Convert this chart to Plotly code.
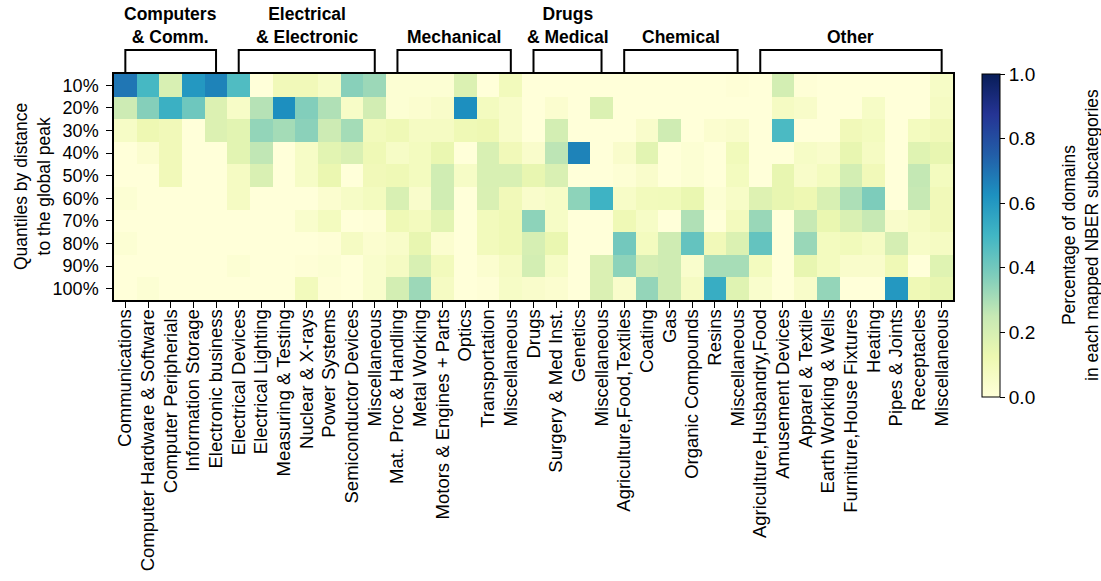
import plotly.graph_objects as go

categories = ["Communications", "Computer Hardware & Software", "Computer Peripherials",
              "Information Storage", "Electronic business",
              "Electrical Devices", "Electrical Lighting", "Measuring & Testing", "Nuclear & X-rays",
              "Power Systems", "Semiconductor Devices", "Miscellaneous",
              "Mat. Proc & Handling", "Metal Working", "Motors & Engines + Parts", "Optics",
              "Transportation", "Miscellaneous",
              "Drugs", "Surgery & Med Inst.", "Genetics", "Miscellaneous",
              "Agriculture,Food,Textiles", "Coating", "Gas", "Organic Compounds", "Resins", "Miscellaneous",
              "Agriculture,Husbandry,Food", "Amusement Devices", "Apparel & Textile", "Earth Working & Wells",
              "Furniture,House Fixtures", "Heating", "Pipes & Joints", "Receptacles", "Miscellaneous"]

quantiles = ["10%", "20%", "30%", "40%", "50%", "60%", "70%", "80%", "90%", "100%"]

groups = ["Computers<br>& Comm.", "Electrical<br>& Electronic", "Mechanical",
          "Drugs<br>& Medical", "Chemical", "Other"]
group_sizes = [5, 7, 6, 4, 6, 9]

q10 = [0.69, 0.49, 0.195, 0.6, 0.66, 0.47, 0, 0.1, 0.1, 0.06,
       0.36, 0.325, 0.02, 0.02, 0.02, 0.185, 0, 0.09, 0, 0,
       0, 0, 0, 0, 0, 0, 0, 0.01, 0, 0.21,
       0.01, 0, 0, 0, 0, 0, 0.06]
q20 = [0.23, 0.365, 0.52, 0.41, 0.18, 0.055, 0.28, 0.63, 0.37, 0.29,
       0.055, 0.215, 0.02, 0.03, 0.05, 0.63, 0.08, 0.05, 0, 0.03,
       0, 0.185, 0, 0, 0, 0, 0, 0, 0, 0.068,
       0.05, 0, 0, 0.06, 0, 0, 0.07]
q30 = [0.06, 0.12, 0.1, 0, 0.18, 0.16, 0.34, 0.31, 0.355, 0.23,
       0.31, 0.09, 0.11, 0.07, 0.07, 0.11, 0.12, 0.05, 0, 0.21,
       0, 0, 0, 0.045, 0.225, 0, 0.03, 0.045, 0, 0.48,
       0, 0, 0.1, 0.08, 0, 0.08, 0.1]
q40 = [0, 0.03, 0.1, 0, 0, 0.16, 0.26, 0, 0.06, 0.16,
       0.19, 0.11, 0.06, 0.08, 0.135, 0, 0.195, 0.1, 0.045, 0.267,
       0.66, 0, 0.045, 0.16, 0, 0.02, 0, 0.095, 0, 0,
       0.06, 0.045, 0.14, 0.068, 0, 0.17, 0.14]
q50 = [0, 0, 0.1, 0, 0, 0.07, 0.19, 0, 0.06, 0.13,
       0, 0.1, 0.11, 0.08, 0.22, 0.06, 0.195, 0.195, 0.14, 0.19,
       0, 0, 0.015, 0.045, 0, 0.02, 0, 0.08, 0, 0.14,
       0.05, 0.08, 0.21, 0.1, 0, 0.255, 0.08]
q60 = [0.02, 0, 0, 0, 0, 0.07, 0, 0, 0, 0.03,
       0.06, 0.08, 0.195, 0.045, 0.22, 0, 0.19, 0.1, 0.045, 0.06,
       0.35, 0.51, 0.055, 0.09, 0.095, 0.135, 0.02, 0.055, 0.175, 0.14,
       0.12, 0.195, 0.295, 0.38, 0, 0.25, 0.1]
q70 = [0, 0, 0, 0, 0, 0, 0, 0, 0.04, 0.08,
       0, 0.01, 0.11, 0.085, 0.16, 0, 0.09, 0.11, 0.35, 0.06,
       0, 0, 0.11, 0.06, 0, 0.29, 0, 0.085, 0.33, 0,
       0.25, 0.135, 0.19, 0.25, 0.045, 0.07, 0.1]
q80 = [0.02, 0, 0, 0, 0, 0, 0, 0, 0, 0.01,
       0.07, 0.03, 0.05, 0.14, 0.03, 0, 0.09, 0.11, 0.2, 0.135,
       0, 0, 0.4, 0.08, 0.225, 0.43, 0.1, 0.185, 0.43, 0,
       0.33, 0.08, 0.095, 0.068, 0.205, 0.055, 0.07]
q90 = [0, 0, 0, 0, 0, 0.02, 0, 0, 0.01, 0.02,
       0, 0.04, 0.07, 0.195, 0.09, 0, 0.03, 0.07, 0.21, 0.06,
       0, 0.188, 0.35, 0.205, 0.225, 0.04, 0.305, 0.305, 0.08, 0,
       0.14, 0.08, 0.045, 0.045, 0.11, 0, 0.17]
q100 = [0, 0.02, 0, 0, 0, 0, 0, 0, 0.09, 0.01,
        0, 0.04, 0.21, 0.325, 0.07, 0, 0.01, 0.06, 0.045, 0.03,
        0, 0.188, 0.045, 0.338, 0.225, 0.068, 0.53, 0.17, 0.04, 0,
        0.05, 0.338, 0, 0, 0.6, 0.11, 0.14]

z = [q10, q20, q30, q40, q50, q60, q70, q80, q90, q100]

ylgnbu = ["#ffffd9", "#edf8b1", "#c7e9b4", "#7fcdbb", "#41b6c4",
          "#1d91c0", "#225ea8", "#253494", "#081d58"]
colorscale = [[i / (len(ylgnbu) - 1), c] for i, c in enumerate(ylgnbu)]

FONT = "Liberation Sans, Arial, sans-serif"
W, H = 1101, 581
PX0, PX1, PY0, PY1 = 114, 953, 74, 300   # plot area in page pixels
L, T = PX0, PY0
R = W - PX1
B = H - PY1
plot_w = PX1 - PX0
plot_h = PY1 - PY0


def px_x(px):
    return (px - PX0) / plot_w


def px_y(py):
    return (PY1 - py) / plot_h


xs = list(range(len(categories)))
ys = list(range(len(quantiles)))

fig = go.Figure(go.Heatmap(
    z=z, x=xs, y=ys, zmin=0, zmax=1, colorscale=colorscale,
    hoverinfo="skip",
    colorbar=dict(
        x=px_x(982), xanchor="left", xpad=0,
        y=1, yanchor="top", ypad=0,
        lenmode="pixels", len=323, thickness=18,
        outlinewidth=1, outlinecolor="black",
        tickvals=[0, 0.2, 0.4, 0.6, 0.8, 1.0],
        ticktext=["0.0", "0.2", "0.4", "0.6", "0.8", "1.0"],
        ticks="outside", ticklen=5, tickwidth=1, tickcolor="black",
        tickfont=dict(family=FONT, size=19, color="black"),
    ),
))

fig.update_layout(
    width=W, height=H,
    margin=dict(l=L, r=R, t=T, b=B, autoexpand=False),
    paper_bgcolor="white", plot_bgcolor="white",
    font=dict(family=FONT, color="black"),
)
fig.update_xaxes(
    range=[-0.5, len(categories) - 0.5],
    tickmode="array", tickvals=xs, ticktext=categories, tickangle=-90,
    ticks="outside", ticklen=6, tickwidth=1, tickcolor="black",
    tickfont=dict(family=FONT, size=18.5, color="black"),
    ticklabelstandoff=-6,
    showline=True, mirror=True, linecolor="black", linewidth=1.5,
    showgrid=False, zeroline=False,
)
fig.update_yaxes(
    range=[len(quantiles) - 0.5, -0.5],
    tickmode="array", tickvals=ys, ticktext=quantiles,
    ticks="outside", ticklen=6, tickwidth=1, tickcolor="black",
    tickfont=dict(family=FONT, size=18, color="black"),
    ticklabelstandoff=4,
    showline=True, mirror=True, linecolor="black", linewidth=1.5,
    showgrid=False, zeroline=False,
)

# group brackets and labels
start = 0
for name, n in zip(groups, group_sizes):
    x0, x1 = start, start + n - 1
    fig.add_shape(type="path",
                  path=f"M {x0},{px_y(73)} L {x0},{px_y(50)} L {x1},{px_y(50)} L {x1},{px_y(73)}",
                  xref="x", yref="paper", line=dict(color="black", width=2))
    fig.add_annotation(x=(x0 + x1) / 2, xref="x", y=px_y(49), yref="paper",
                       yanchor="bottom", xanchor="center", showarrow=False,
                       text=f"<b>{name}</b>",
                       font=dict(family=FONT, size=17.5, color="black"))
    start += n

fig.add_annotation(x=px_x(32), xref="paper", y=px_y(187), yref="paper",
                   xanchor="center", yanchor="middle", showarrow=False, textangle=-90,
                   text="Quantiles by distance<br>to the global peak",
                   font=dict(family=FONT, size=17.5, color="black"))
fig.add_annotation(x=px_x(1080), xref="paper", y=px_y(235), yref="paper",
                   xanchor="center", yanchor="middle", showarrow=False, textangle=-90,
                   text="Percentage of domains<br>in each mapped NBER subcategories",
                   font=dict(family=FONT, size=17.5, color="black"))

fig.write_html(
    "out.html",
    config={"displayModeBar": False},
    post_script="document.body.style.margin='0';document.body.style.overflow='hidden';",
)
